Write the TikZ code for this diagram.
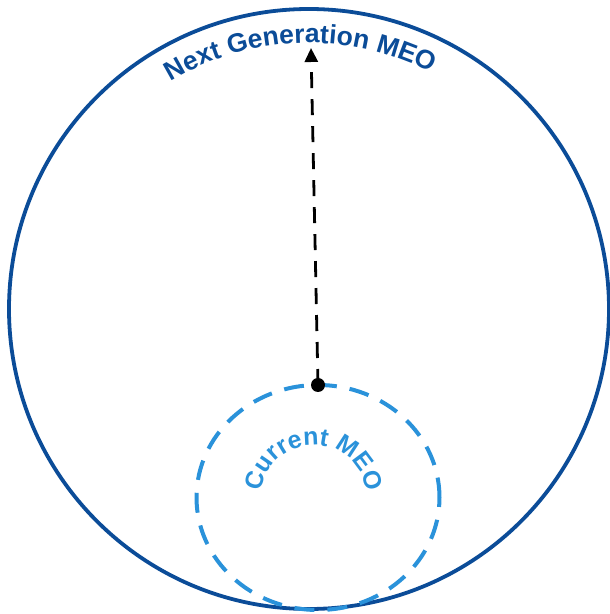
\documentclass[tikz,border=0pt]{standalone}
\usepackage{fontspec}
\setmainfont{Liberation Sans}
\usetikzlibrary{decorations.text,arrows.meta,calc}
\definecolor{navyblue}{HTML}{0B4C98}
\definecolor{lightblue}{HTML}{2A92DA}
\tikzset{
  bigcirc/.style={draw=navyblue, line width=3.8pt},
  smallcirc/.style={draw=lightblue, line width=4pt, dash pattern=on 20pt off 13pt},
  movearrow/.style={draw=black, line width=2.8pt, dash pattern=on 16pt off 11pt, -{Triangle[width=13pt,length=14pt]}},
  dotstyle/.style={circle, fill=black, inner sep=0pt, minimum size=14pt}
}
\begin{document}
\begin{tikzpicture}[x=1pt,y=1pt]
\useasboundingbox (0,0) rectangle (610,614);
% big circle
\coordinate (bc) at (309,305);
\draw[bigcirc] (bc) circle (300);
% small dashed ellipse
\coordinate (sc) at (318,116.5);
\draw[smallcirc] (sc) ellipse [x radius=121.5, y radius=112.5];
% dot and arrow
\node[dotstyle] (dot) at (318,229) {};
\coordinate (tip) at (311,566);
\draw[movearrow] (dot.center) -- (tip);
% curved texts
\path[decorate, decoration={text along path, text align=center,
  text={|\fontsize{26.5}{30}\selectfont\bfseries\color{navyblue}|Next Generation MEO}}]
  ($(bc)+(152:266)$) arc[start angle=152, end angle=32, radius=266];
\path[decorate, decoration={text along path, text align=center,
  text={|\fontsize{25}{29}\selectfont\bfseries\color{lightblue}|Current MEO}}]
  ($(314,116)+(180:53)$) arc[start angle=180, end angle=0, radius=53];
\end{tikzpicture}
\end{document}
